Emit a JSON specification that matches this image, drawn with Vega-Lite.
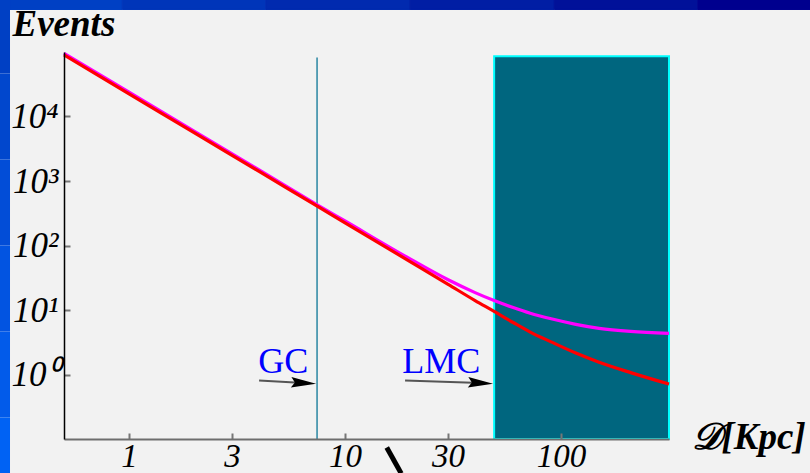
{
  "$schema": "https://vega.github.io/schema/vega-lite/v6.json",
  "width": 605,
  "height": 387,
  "autosize": {"type": "none"},
  "padding": {"left": 64, "top": 52, "right": 141, "bottom": 34},
  "background": "#f2f2f2",
  "config": {"view": {"stroke": null, "fill": "#f2f2f2"}},
  "datasets": {
    "topbar": [
      {"D": 0.2, "D2": 0.93, "N": 1000000, "N2": 456000, "t": 0},
      {"D": 0.93, "D2": 4.3, "N": 1000000, "N2": 456000, "t": 0.2},
      {"D": 4.3, "D2": 20, "N": 1000000, "N2": 456000, "t": 0.4},
      {"D": 20, "D2": 93, "N": 1000000, "N2": 456000, "t": 0.6},
      {"D": 93, "D2": 430, "N": 1000000, "N2": 456000, "t": 0.8},
      {"D": 430, "D2": 2000, "N": 1000000, "N2": 456000, "t": 1}
    ],
    "leftbar": [
      {"D": 0.2, "D2": 0.2812, "N": 1000000, "N2": 46400, "t": 0},
      {"D": 0.2, "D2": 0.2812, "N": 46400, "N2": 2150, "t": 0.2},
      {"D": 0.2, "D2": 0.2812, "N": 2150, "N2": 100, "t": 0.4},
      {"D": 0.2, "D2": 0.2812, "N": 100, "N2": 4.64, "t": 0.6},
      {"D": 0.2, "D2": 0.2812, "N": 4.64, "N2": 0.215, "t": 0.8},
      {"D": 0.2, "D2": 0.2812, "N": 0.215, "N2": 0.01, "t": 1}
    ],
    "magenta": [
      {"D": 0.5, "N": 95000}, {"D": 1, "N": 23800}, {"D": 2, "N": 5950}, {"D": 4, "N": 1485},
      {"D": 7.4, "N": 432}, {"D": 10, "N": 240}, {"D": 20, "N": 62}, {"D": 30, "N": 29.4},
      {"D": 40, "N": 18.6}, {"D": 49, "N": 14.0}, {"D": 60, "N": 10.9}, {"D": 72, "N": 8.9},
      {"D": 90, "N": 7.3}, {"D": 117, "N": 6.0}, {"D": 150, "N": 5.2}, {"D": 210, "N": 4.65},
      {"D": 316, "N": 4.33}
    ],
    "red": [
      {"D": 0.5, "N": 90000}, {"D": 1, "N": 22500}, {"D": 2, "N": 5625}, {"D": 4, "N": 1406},
      {"D": 7.4, "N": 411}, {"D": 10, "N": 225}, {"D": 20, "N": 56.3}, {"D": 30, "N": 25},
      {"D": 40, "N": 14.0}, {"D": 49, "N": 9.5}, {"D": 60, "N": 6.4}, {"D": 72, "N": 4.55},
      {"D": 90, "N": 3.2}, {"D": 117, "N": 2.15}, {"D": 150, "N": 1.55}, {"D": 210, "N": 1.07},
      {"D": 316, "N": 0.71}
    ],
    "lmc": [{"D": 49, "D2": 316, "N": 0.1, "N2": 86000}],
    "gc": [{"D": 7.42, "N": 0.1, "N2": 82000}],
    "labels": [{"D": 3.96, "N": 1.04, "text": "GC"}, {"D": 18.4, "N": 1.04, "text": "LMC"}],
    "shafts": [
      {"D": 4.0, "N": 0.807, "D2": 6.43, "N2": 0.738},
      {"D": 18.96, "N": 0.807, "D2": 42.4, "N2": 0.738}
    ],
    "heads": [{"D": 6.43, "N": 0.738}, {"D": 42.4, "N": 0.738}],
    "stroke": [{"D": 15.6, "N": 0.074, "D2": 18.2, "N2": 0.0292}]
  },
  "encoding": {
    "x": {
      "field": "D",
      "type": "quantitative",
      "scale": {"type": "log", "domain": [0.5, 316], "nice": false},
      "axis": {
        "values": [1, 3, 10, 30, 100],
        "labelExpr": "format(datum.value, 'd')",
        "grid": false,
        "zindex": 1,
        "domainColor": "#6e6e6e",
        "domainWidth": 2,
        "tickColor": "#777777",
        "tickWidth": 2,
        "tickSize": -6,
        "labelPadding": 7,
        "labelFont": "Liberation Serif",
        "labelFontStyle": "italic",
        "labelFontSize": 33,
        "labelColor": "#000000",
        "labelFlush": false,
        "labelOverlap": false,
        "title": "𝒟[Kpc]",
        "titleFont": "Liberation Serif",
        "titleFontStyle": "italic",
        "titleFontWeight": "bold",
        "titleFontSize": 37,
        "titleColor": "#000000",
        "titleAlign": "left",
        "titleBaseline": "alphabetic",
        "titleX": 627,
        "titleY": 9
      }
    },
    "y": {
      "field": "N",
      "type": "quantitative",
      "scale": {"type": "log", "domain": [0.1, 100000], "nice": false},
      "axis": {
        "values": [1, 10, 100, 1000, 10000],
        "labelExpr": "'10' + ['⁰','¹','²','³','⁴'][round(log(datum.value)/LN10)]",
        "grid": false,
        "zindex": 1,
        "domainColor": "#000000",
        "domainWidth": 1.5,
        "tickColor": "#777777",
        "tickWidth": 2,
        "tickSize": -6,
        "labelPadding": 12,
        "labelFont": "Liberation Serif",
        "labelFontStyle": "italic",
        "labelFontSize": 35,
        "labelColor": "#000000",
        "labelFlush": false,
        "labelOverlap": false,
        "title": "Events",
        "titleFont": "Liberation Serif",
        "titleFontStyle": "italic",
        "titleFontWeight": "bold",
        "titleFontSize": 37,
        "titleColor": "#000000",
        "titleAngle": 0,
        "titleAlign": "left",
        "titleBaseline": "alphabetic",
        "titleX": -52,
        "titleY": -17
      }
    }
  },
  "layer": [
    {
      "data": {"name": "topbar"},
      "mark": {"type": "rect", "strokeWidth": 1, "clip": false},
      "encoding": {
        "x2": {"field": "D2"},
        "y2": {"field": "N2"},
        "fill": {"field": "t", "type": "quantitative", "legend": null,
          "scale": {"domain": [0, 1], "range": ["#0040c4", "#00008e"]}},
        "stroke": {"field": "t", "type": "quantitative", "legend": null,
          "scale": {"domain": [0, 1], "range": ["#0040c4", "#00008e"]}}
      }
    },
    {
      "data": {"name": "leftbar"},
      "mark": {"type": "rect", "strokeWidth": 1, "clip": false},
      "encoding": {
        "x2": {"field": "D2"},
        "y2": {"field": "N2"},
        "color": {"field": "t", "type": "quantitative", "legend": null,
          "scale": {"domain": [0, 1], "range": ["#0040c4", "#0062f4"]}},
        "opacity": {"value": 1}
      }
    },
    {
      "data": {"name": "lmc"},
      "mark": {"type": "rect", "fill": "#00667f", "stroke": "#00ffff", "strokeWidth": 2},
      "encoding": {"x2": {"field": "D2"}, "y2": {"field": "N2"}}
    },
    {
      "data": {"name": "gc"},
      "mark": {"type": "rule", "color": "#0a7596", "strokeWidth": 1.3},
      "encoding": {"y2": {"field": "N2"}}
    },
    {
      "data": {"name": "magenta"},
      "mark": {"type": "line", "color": "#ff00ff", "strokeWidth": 3.2, "interpolate": "monotone"}
    },
    {
      "data": {"name": "red"},
      "mark": {"type": "line", "color": "#ff0000", "strokeWidth": 3.2, "interpolate": "monotone"}
    },
    {
      "data": {"name": "labels"},
      "mark": {"type": "text", "font": "Liberation Serif", "fontSize": 36, "color": "#0000ff", "align": "left", "baseline": "alphabetic"},
      "encoding": {"text": {"field": "text"}}
    },
    {
      "data": {"name": "shafts"},
      "mark": {"type": "rule", "color": "#555555", "strokeWidth": 2},
      "encoding": {"x2": {"field": "D2"}, "y2": {"field": "N2"}}
    },
    {
      "data": {"name": "heads"},
      "mark": {"type": "point", "filled": true, "color": "#000000", "opacity": 1, "size": 625, "angle": 3,
        "shape": "M -1 -0.42 L 1 0 L -1 0.42 L -0.7 0 Z"}
    },
    {
      "data": {"name": "stroke"},
      "mark": {"type": "rule", "color": "#000000", "strokeWidth": 5},
      "encoding": {"x2": {"field": "D2"}, "y2": {"field": "N2"}}
    }
  ]
}
